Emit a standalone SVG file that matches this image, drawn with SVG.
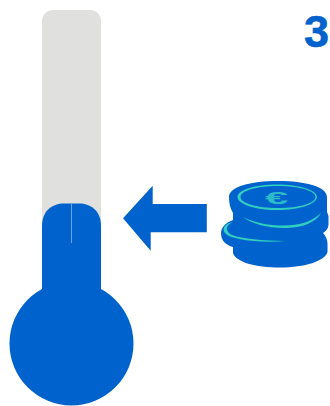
<svg xmlns="http://www.w3.org/2000/svg" width="330" height="406" viewBox="0 0 330 406">
<style>
.b{fill:#0062cc}
.t{fill:#2fd0c0}
</style>
<g id="thermometer">
<rect x="42" y="10" width="59" height="230" rx="11" fill="#e0e0de"/>
<path class="b" d="M42 300V226C42 211 52 203.500 64 203.500H79C91 203.500 101 211 101 226V300Z"/>
<circle class="b" cx="71.500" cy="343.500" r="62"/>
<rect x="71" y="204" width="1" height="39" fill="#6fa3de"/>
</g>
<g id="arrow">
<path class="b" d="M123 218.300L152.700 185.700V204H206.800V232.300H150.700V250.700Z"/>
</g>
<g id="coins">
<path class="b" d="M229 197C229 187 250 181 278 181C306 181 327 187 327 197V212L328.500 216V225C328 229 326 231 323 233C326 236 327.500 240 327.500 244V252C325 261 305 267.500 280 267.500C255 267.500 236 262 233 253V247C226 245 221 241 221 233C221 228 225 223 233 220V213C230 208 229 203 229 197Z"/>
<path class="t" fill-rule="evenodd" d="M237.500 197C237.500 190 255 184.500 277 184.500C299 184.500 317 190 317 197C317 204 299 210 277 210C255 210 237.500 204 237.500 197ZM240.500 197C240.500 203 256 208 278 208C300 208 315.500 203 315.500 197C315.500 191 300 186 278 186C256 186 240.500 191 240.500 197Z"/>
<path class="t" d="M243 217C257 224 272 225.500 284 225.500C298 225.500 312 222 321 213C315 224 299 228 284 228C268 228 252 224 243 217Z"/>
<path class="t" d="M233 222C224 226 226 232 232 235C243 239 262 240.500 286 241C262 243 240 240.500 229 236C220 231 223 224 233 222Z"/>
<text transform="translate(276.500 203.500) scale(2.6 1)" font-family="Liberation Sans, Arial, sans-serif" font-size="16" font-weight="700" text-anchor="middle" fill="#2abcc8">€</text>
</g>
<text id="number" x="316.500" y="47" font-family="Liberation Sans, Arial, sans-serif" font-size="45" font-weight="700" text-anchor="middle" fill="#0062cc" stroke="#0062cc" stroke-width="0.6">3</text>
</svg>
